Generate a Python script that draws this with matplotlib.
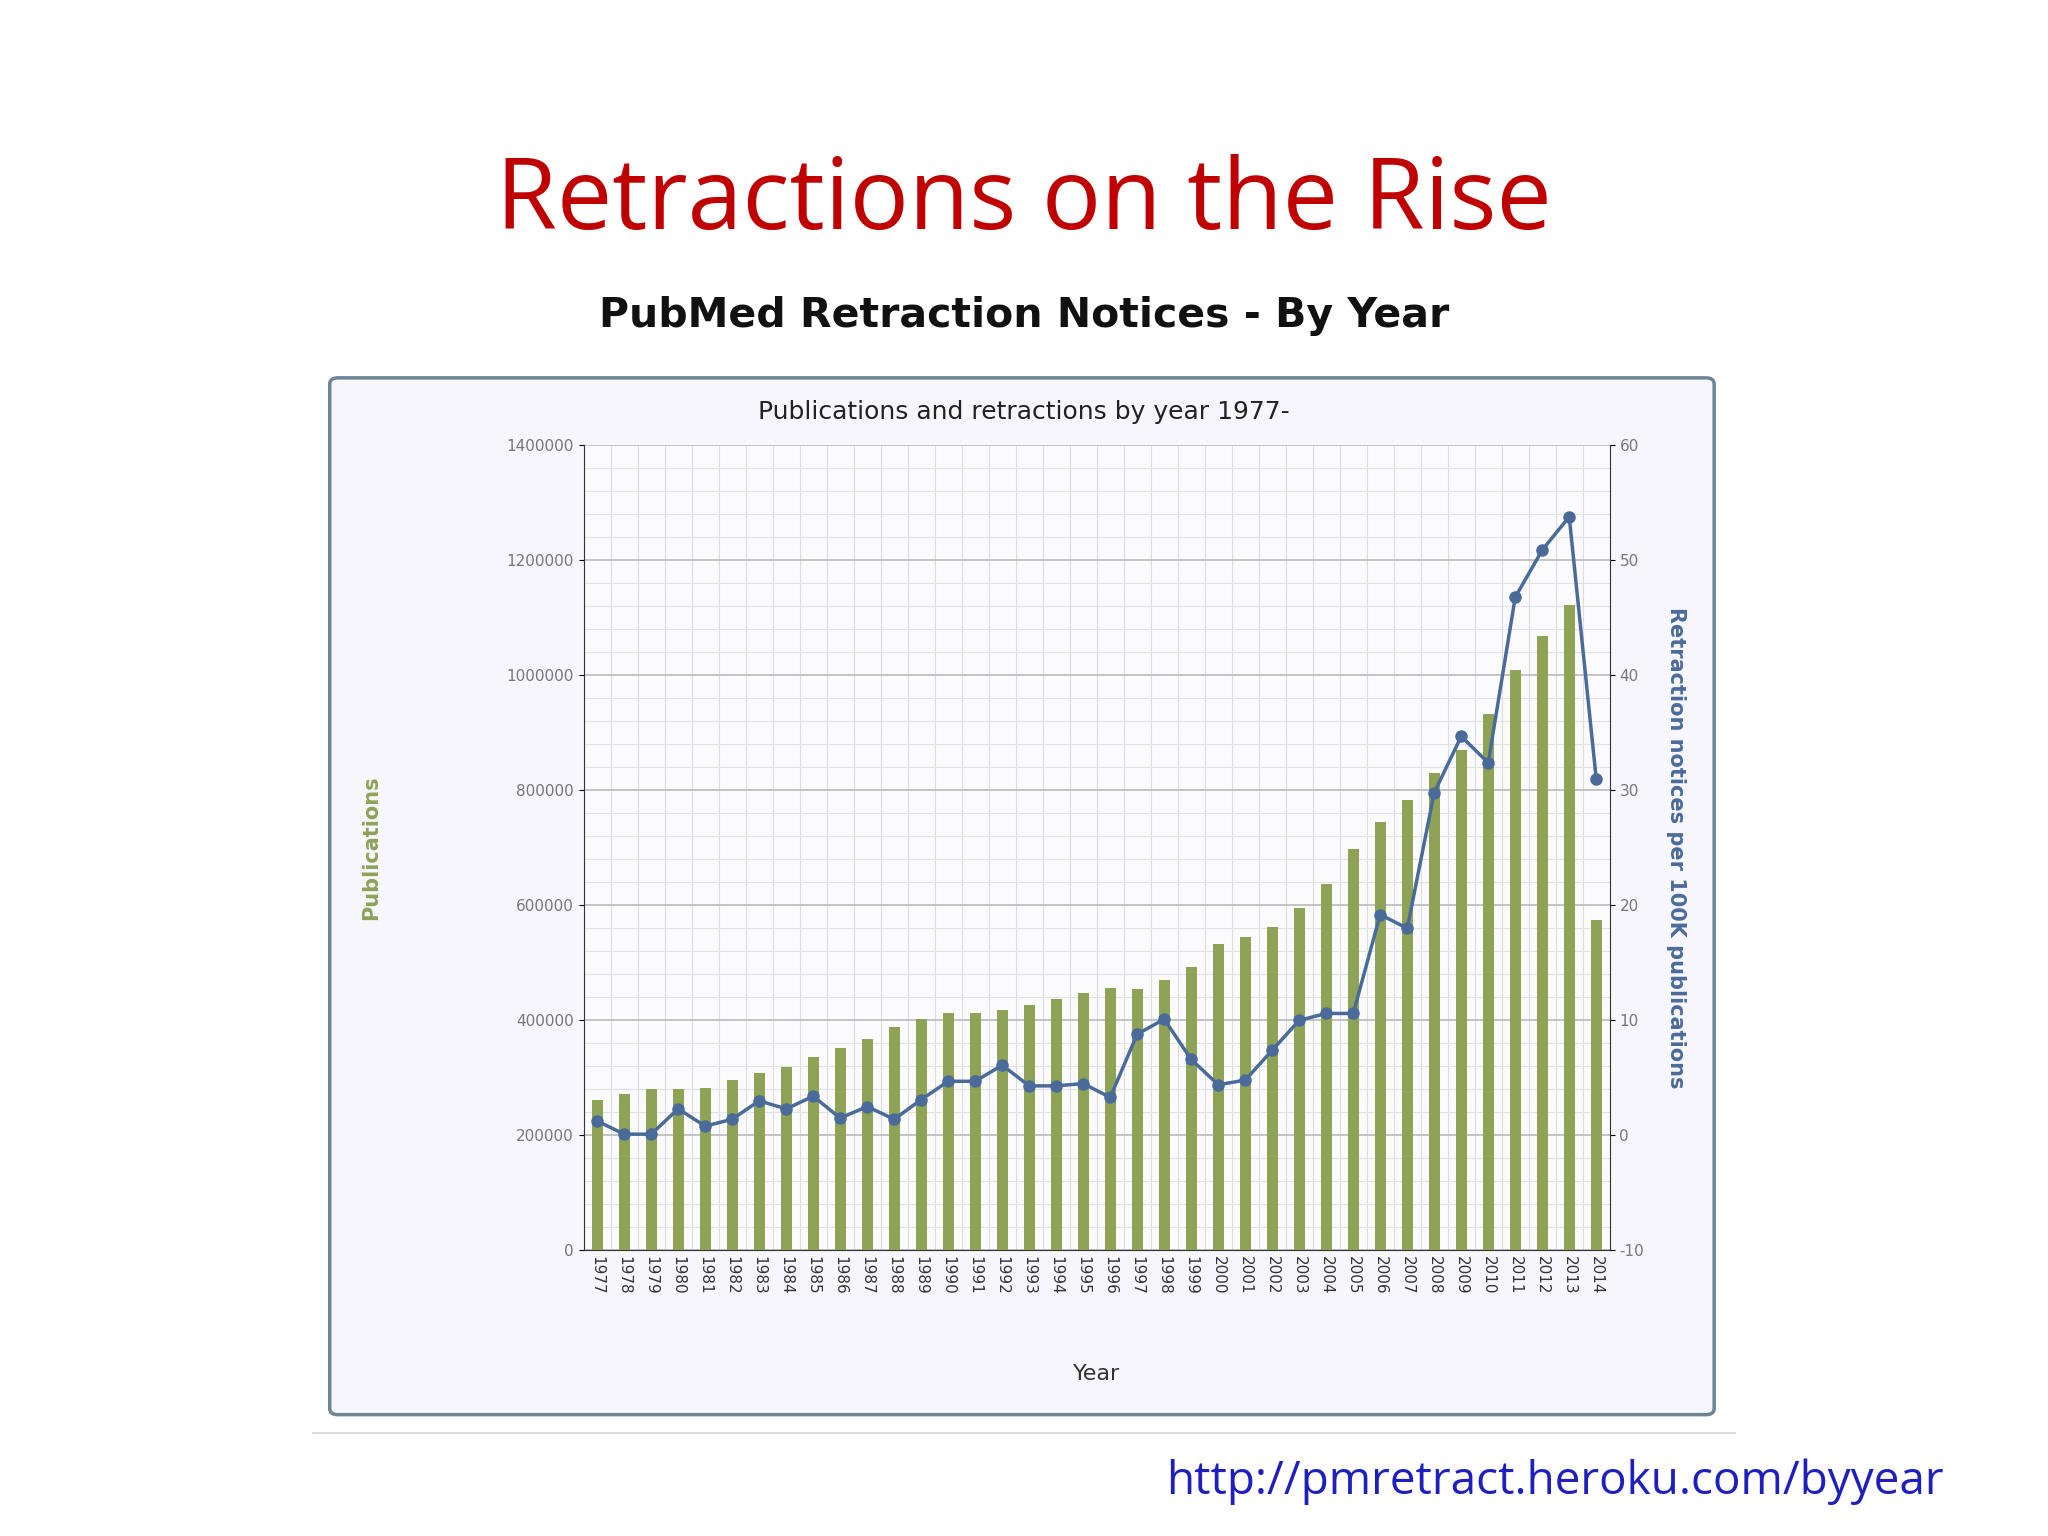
import matplotlib
matplotlib.use("Agg")
import matplotlib.pyplot as plt
from matplotlib.patches import FancyBboxPatch
import numpy as np

years = list(range(1977, 2015))
publications = [262e3, 272e3, 280e3, 280e3, 283e3, 296e3, 308e3, 318e3, 337e3, 352e3,
                367e3, 388e3, 402e3, 412e3, 412e3, 418e3, 427e3, 437e3, 448e3, 457e3,
                455e3, 470e3, 493e3, 533e3, 545e3, 563e3, 595e3, 638e3, 698e3, 745e3,
                783e3, 830e3, 870e3, 933e3, 1010e3, 1068e3, 1123e3, 575e3]
retractions = [1.25, 0.1, 0.1, 2.3, 0.8, 1.4, 3.0, 2.3, 3.4, 1.5,
               2.5, 1.4, 3.1, 4.7, 4.7, 6.1, 4.3, 4.3, 4.5, 3.3,
               8.8, 10.1, 6.6, 4.4, 4.8, 7.4, 10.0, 10.6, 10.6, 19.2,
               18.0, 29.8, 34.7, 32.4, 46.8, 50.9, 53.8, 31.0]

fig = plt.figure(figsize=(20.48, 15.36), dpi=100)
fig.patch.set_facecolor("white")

fig.text(0.5, 0.868, "Retractions on the Rise", ha="center", va="center",
         fontsize=71, color="#c00000", family="Open Sans")
fig.text(0.5, 0.794, "PubMed Retraction Notices - By Year", ha="center", va="center",
         fontsize=29.5, fontweight="bold", color="#111111", family="DejaVu Sans")
fig.text(0.949, 0.035, "http://pmretract.heroku.com/byyear", ha="right", va="center",
         fontsize=33, color="#1f1fbf", family="Open Sans")

box = FancyBboxPatch((0.161, 0.079), 0.676, 0.675, boxstyle="round,pad=0,rounding_size=0.004",
                     transform=fig.transFigure, facecolor="#f6f6fc", edgecolor="#6e8597",
                     linewidth=2.5, zorder=-5)
fig.patches.append(box)
fig.add_artist(plt.Line2D([0.153, 0.847], [0.067, 0.067], color="#dddddd", lw=1.5,
                          transform=fig.transFigure, zorder=-5))
fig.text(0.5, 0.732, "Publications and retractions by year 1977-", ha="center", va="center",
         fontsize=18, color="#222222")

ax = fig.add_axes([0.285, 0.186, 0.501, 0.524], zorder=2)
ax.set_facecolor("#fbfbfe")
x = np.arange(len(years))
ax.bar(x, publications, width=0.4, color="#8ea356", zorder=3)
ax.set_xlim(-0.5, len(years) - 0.5)
ax.set_ylim(0, 1400000)
ax.set_yticks(np.arange(0, 1400001, 200000))
ax.set_yticklabels([str(v) for v in range(0, 1400001, 200000)], fontsize=11, color="#777777")
ax.set_yticks(np.arange(0, 1400001, 40000), minor=True)
ax.set_xticks(x)
ax.set_xticklabels([str(y) for y in years], rotation=270, fontsize=11, color="#333333")
ax.set_xticks(np.arange(-0.5, len(years), 0.5), minor=True)
ax.grid(which="major", axis="y", color="#bbbbbb", lw=1.2, zorder=0)
ax.grid(which="minor", axis="y", color="#e2e2e2", lw=0.8, zorder=0)
ax.grid(which="minor", axis="x", color="#dddddd", lw=0.8, zorder=0)
ax.tick_params(which="minor", length=0)
ax.tick_params(axis="x", length=0, pad=4)
for s in ["top", "right"]:
    ax.spines[s].set_visible(False)
ax.spines["left"].set_color("#333333")
ax.spines["bottom"].set_color("#333333")
ax.set_ylabel("Publications", fontsize=15, color="#8ea356", fontweight="bold", labelpad=90)
ax.set_xlabel("Year", fontsize=16, color="#333333", labelpad=50)

ax2 = ax.twinx()
ax2.plot(x, retractions, color="#4a6b9a", lw=2.5, marker="o", markersize=8, zorder=5)
ax2.set_ylim(-10, 60)
ax2.set_yticks(range(-10, 61, 10))
ax2.set_yticklabels([str(v) for v in range(-10, 61, 10)], fontsize=11, color="#777777")
for s in ["top", "left", "bottom"]:
    ax2.spines[s].set_visible(False)
ax2.spines["right"].set_color("#333333")
ax2.set_ylabel("Retraction notices per 100K publications", rotation=270, fontsize=15,
               color="#4a6b9a", fontweight="bold", labelpad=30)

fig.savefig("out.png", dpi=100)
